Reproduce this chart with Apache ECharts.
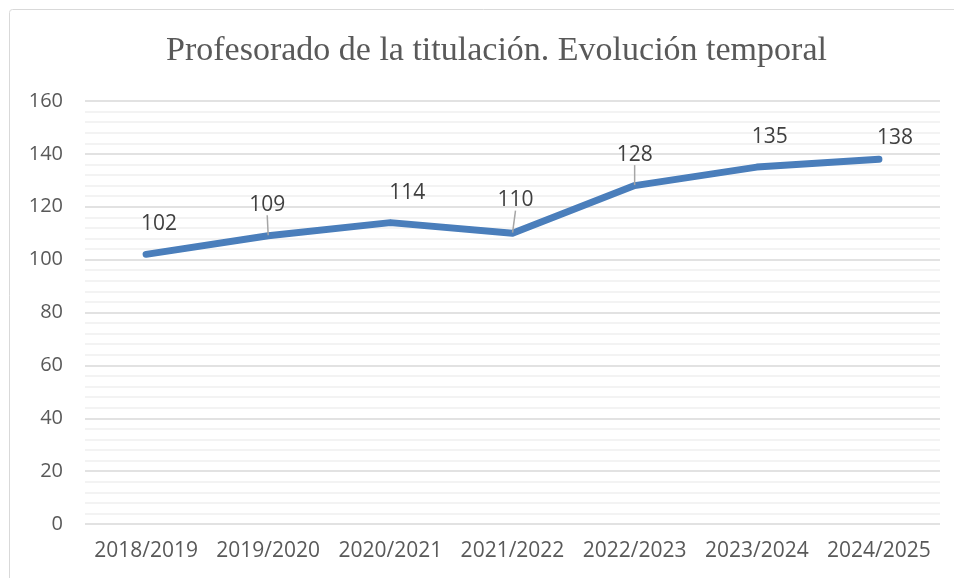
<!DOCTYPE html>
<html><head><meta charset="utf-8">
<script src="https://cdn.jsdelivr.net/npm/echarts@6/dist/echarts.min.js"></script>
<style>html,body{margin:0;padding:0;background:#fff}#c{width:954px;height:578px}</style>
</head><body><div id="c"></div>
<script>
const categories = ['2018/2019','2019/2020','2020/2021','2021/2022','2022/2023','2023/2024','2024/2025'];
const values = [102,109,114,110,128,135,138];
const yTicks = [0,20,40,60,80,100,120,140,160];
const titleText = 'Profesorado de la titulación. Evolución temporal';
// label nudges (styling only)
const labelDx = [13,-1,17,3,0,13,16];
const labelDy = [-14,-15,-14,-17,-15,-14,-5];
const showLeader = [false,true,false,true,true,false,false];

const chart = echarts.init(document.getElementById('c'));
chart.setOption({
  animation:false,
  graphic:[{type:'rect',shape:{x:9.5,y:9.5,width:1000,height:1000,r:3},style:{fill:'none',stroke:'#d9d9d9',lineWidth:1}}],
  title:{text:titleText,left:161,top:29,
    textStyle:{fontFamily:'Liberation Serif',fontSize:34,fontWeight:'normal',color:'#595959'}},
  grid:{left:85,right:14,top:101,bottom:54,containLabel:false},
  xAxis:{type:'category',data:categories,boundaryGap:true,
    axisLine:{show:false},axisTick:{show:false},
    axisLabel:{interval:0,fontFamily:'Open Sans',fontSize:21,color:'#595959',margin:17}},
  yAxis:{type:'value',min:yTicks[0],max:yTicks[yTicks.length-1],interval:20,
    axisLine:{show:false},axisTick:{show:false},
    axisLabel:{fontFamily:'Open Sans',fontSize:20,color:'#595959',margin:22},
    splitLine:{lineStyle:{color:'#d9d9d9',width:1.5}},
    minorTick:{show:false,splitNumber:5},
    minorSplitLine:{show:true,lineStyle:{color:'#efefef',width:1.5}}},
  series:[{type:'line',
    data:values.map((v,i)=>({value:v,labelLine:{show:showLeader[i]}})),
    symbol:'circle',symbolSize:1,showSymbol:true,itemStyle:{color:'rgba(74,126,187,0)'},
    lineStyle:{color:'#4a7ebb',width:7,cap:'round',join:'round'},
    label:{show:true,position:'top',distance:5,fontFamily:'Open Sans',fontSize:21,color:'#404040',opacity:1},
    labelLine:{show:false,lineStyle:{color:'#a6a6a6',width:1.5},length2:0},
    labelLayout:(p)=>({dx:labelDx[p.dataIndex],dy:labelDy[p.dataIndex]})
  }]
});
</script></body></html>
